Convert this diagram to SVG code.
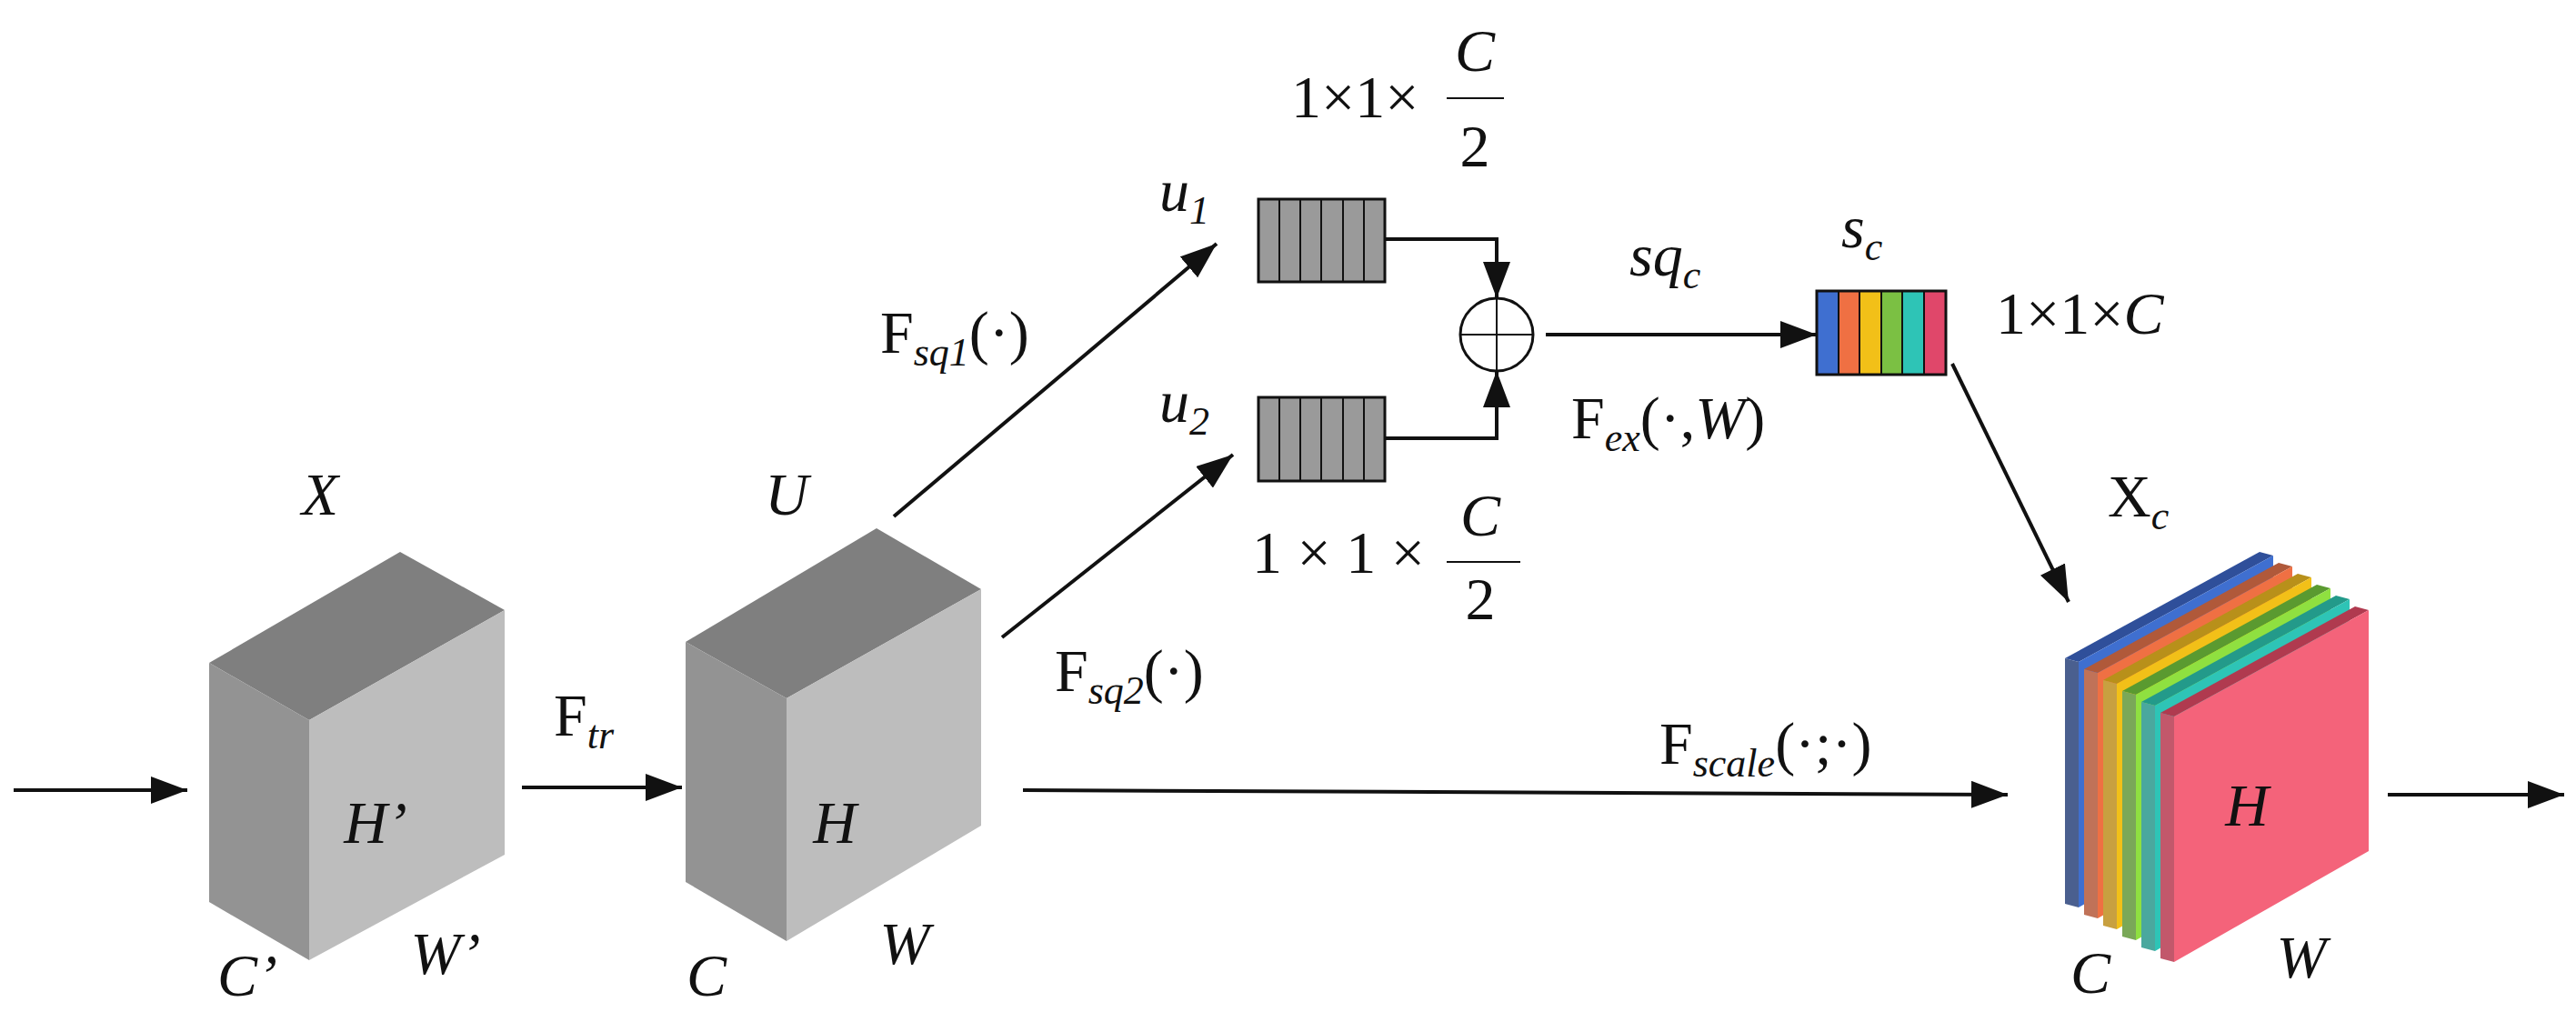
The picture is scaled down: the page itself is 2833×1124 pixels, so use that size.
<svg xmlns="http://www.w3.org/2000/svg" width="2833" height="1124" viewBox="0 0 2833 1124" font-family="'Liberation Serif', 'Times New Roman', 'DejaVu Serif', serif">
<style>
text{font-family:'Liberation Serif','Times New Roman','DejaVu Serif',serif;font-size:66px;fill:#111}
.i{font-style:italic}
.s{font-size:44px}
.ln{stroke:#111;stroke-width:4;fill:none}
.bar{stroke:#111;stroke-width:2}
</style>
<defs>
<marker id="ah" viewBox="0 0 40 30" refX="40" refY="15" markerWidth="40" markerHeight="30" markerUnits="userSpaceOnUse" orient="auto"><path d="M0,0 L40,15 L0,30 z" fill="#111"/></marker>
</defs>
<rect width="2833" height="1124" fill="#fff"/>
<g id="cubeX">
<polygon points="230,729 440,607 555,671 340,792" fill="#7f7f7f"/>
<polygon points="230,729 340,792 340,1056 230,992" fill="#939393"/>
<polygon points="340,792 555,671 555,940 340,1056" fill="#bdbdbd"/>
<text class="i" x="352" y="566" text-anchor="middle">X</text>
<text class="i" x="413" y="927" text-anchor="middle">H’</text>
<text class="i" x="272" y="1095" text-anchor="middle">C’</text>
<text class="i" x="490" y="1071" text-anchor="middle">W’</text>
</g>
<g id="cubeU">
<polygon points="754,706 964,581 1079,648 865,768" fill="#7f7f7f"/>
<polygon points="754,706 865,768 865,1035 754,970" fill="#939393"/>
<polygon points="865,768 1079,648 1079,908 865,1035" fill="#bdbdbd"/>
<text class="i" x="865" y="566" text-anchor="middle">U</text>
<text class="i" x="918" y="927" text-anchor="middle">H</text>
<text class="i" x="777" y="1095" text-anchor="middle">C</text>
<text class="i" x="995" y="1060" text-anchor="middle">W</text>
</g>
<g id="u1">
<rect x="1384" y="219" width="139" height="91" fill="#9a9a9a" stroke="#111" stroke-width="3"/>
<path d="M1407,219V310M1430,219V310M1453,219V310M1477,219V310M1500,219V310" class="bar"/>
<text class="i" x="1275" y="232">u<tspan class="s" dy="14">1</tspan></text>
<text x="1420" y="129">1×1×</text>
<text class="i" x="1622" y="78" text-anchor="middle">C</text>
<line x1="1591" y1="108" x2="1654" y2="108" class="bar" stroke-width="3"/>
<text x="1622" y="183" text-anchor="middle">2</text>
</g>
<g id="u2">
<rect x="1384" y="437" width="139" height="92" fill="#9a9a9a" stroke="#111" stroke-width="3"/>
<path d="M1407,437V529M1430,437V529M1453,437V529M1477,437V529M1500,437V529" class="bar"/>
<text class="i" x="1275" y="464">u<tspan class="s" dy="14">2</tspan></text>
<text x="1377" y="630" xml:space="preserve">1 × 1 ×</text>
<text class="i" x="1628" y="589" text-anchor="middle">C</text>
<line x1="1591" y1="618" x2="1672" y2="618" class="bar" stroke-width="3"/>
<text x="1628" y="681" text-anchor="middle">2</text>
</g>
<g id="sum">
<circle cx="1646" cy="368" r="40" fill="#fff" stroke="#111" stroke-width="3"/>
<path d="M1606,368H1686M1646,328V408" class="bar" stroke-width="3"/>
</g>
<g id="sc">
<rect x="1998" y="320" width="24" height="92" fill="#3f6fd0"/>
<rect x="2022" y="320" width="23" height="92" fill="#ef7043"/>
<rect x="2045" y="320" width="24" height="92" fill="#f2c018"/>
<rect x="2069" y="320" width="23" height="92" fill="#7bc043"/>
<rect x="2092" y="320" width="24" height="92" fill="#2ec4b6"/>
<rect x="2116" y="320" width="24" height="92" fill="#e0476a"/>
<rect x="1998" y="320" width="142" height="92" fill="none" stroke="#111" stroke-width="3"/>
<path d="M2022,320V412M2045,320V412M2069,320V412M2092,320V412M2116,320V412" class="bar"/>
<text class="i" x="2025" y="272">s<tspan class="s" dy="14">c</tspan></text>
<text x="2195" y="367">1×1×<tspan class="i">C</tspan></text>
</g>
<g id="Xc">
<g><polygon points="2271,724 2286,728 2500,611 2485,607" fill="#2f4f9a"/><polygon points="2271,724 2286,728 2286,998 2271,994" fill="#4a5f8f"/><polygon points="2286,728 2500,611 2500,876 2286,998" fill="#3f6fd0"/></g>
<g transform="translate(21,12)"><polygon points="2271,724 2286,728 2500,611 2485,607" fill="#b0593a"/><polygon points="2271,724 2286,728 2286,998 2271,994" fill="#c07258"/><polygon points="2286,728 2500,611 2500,876 2286,998" fill="#ef7043"/></g>
<g transform="translate(42,24)"><polygon points="2271,724 2286,728 2500,611 2485,607" fill="#b8901a"/><polygon points="2271,724 2286,728 2286,998 2271,994" fill="#c8a040"/><polygon points="2286,728 2500,611 2500,876 2286,998" fill="#f2c018"/></g>
<g transform="translate(63,36)"><polygon points="2271,724 2286,728 2500,611 2485,607" fill="#5a9a30"/><polygon points="2271,724 2286,728 2286,998 2271,994" fill="#7aa858"/><polygon points="2286,728 2500,611 2500,876 2286,998" fill="#8fe040"/></g>
<g transform="translate(84,48)"><polygon points="2271,724 2286,728 2500,611 2485,607" fill="#239a8a"/><polygon points="2271,724 2286,728 2286,998 2271,994" fill="#4aa89e"/><polygon points="2286,728 2500,611 2500,876 2286,998" fill="#2ec4b6"/></g>
<g transform="translate(105,60)"><polygon points="2271,724 2286,728 2500,611 2485,607" fill="#b03a4f"/><polygon points="2271,724 2286,728 2286,998 2271,994" fill="#c2586b"/><polygon points="2286,728 2500,611 2500,876 2286,998" fill="#f4637a"/></g>
<text x="2318" y="568">X<tspan class="s i" dy="14">c</tspan></text>
<text class="i" x="2471" y="908" text-anchor="middle">H</text>
<text class="i" x="2299" y="1092" text-anchor="middle">C</text>
<text class="i" x="2531" y="1075" text-anchor="middle">W</text>
</g>
<g id="connectors">
<line x1="15" y1="869" x2="206" y2="869" class="ln" marker-end="url(#ah)"/>
<line x1="574" y1="866" x2="750" y2="866" class="ln" marker-end="url(#ah)"/>
<line x1="983" y1="568" x2="1338" y2="268" class="ln" marker-end="url(#ah)"/>
<line x1="1102" y1="701" x2="1356" y2="500" class="ln" marker-end="url(#ah)"/>
<polyline points="1523,263 1646,263 1646,328" class="ln" stroke-width="3" marker-end="url(#ah)"/>
<polyline points="1523,482 1646,482 1646,408" class="ln" stroke-width="3" marker-end="url(#ah)"/>
<line x1="1700" y1="368" x2="1998" y2="368" class="ln" stroke-width="3" marker-end="url(#ah)"/>
<line x1="2147" y1="400" x2="2275" y2="662" class="ln" stroke-width="3" marker-end="url(#ah)"/>
<line x1="1125" y1="869" x2="2208" y2="874" class="ln" marker-end="url(#ah)"/>
<line x1="2626" y1="874" x2="2820" y2="874" class="ln" marker-end="url(#ah)"/>
<text x="609" y="809">F<tspan class="s i" dy="14">tr</tspan></text>
<text x="968" y="388">F<tspan class="s i" dy="14">sq1</tspan><tspan dy="-14">(·)</tspan></text>
<text x="1160" y="760">F<tspan class="s i" dy="14">sq2</tspan><tspan dy="-14">(·)</tspan></text>
<text class="i" x="1792" y="303">sq<tspan class="s" dy="14">c</tspan></text>
<text x="1728" y="482">F<tspan class="s i" dy="14">ex</tspan><tspan dy="-14">(·,</tspan><tspan class="i">W</tspan>)</text>
<text x="1825" y="840">F<tspan class="s i" dy="14">scale</tspan><tspan dy="-14">(·;·)</tspan></text>
</g>
</svg>
